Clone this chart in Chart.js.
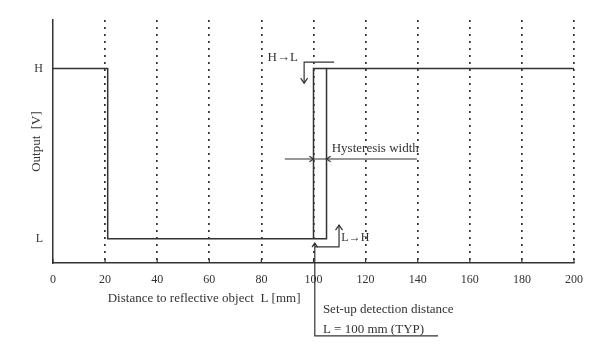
<!DOCTYPE html>
<html>
<head>
<meta charset="utf-8">
<script src="https://cdn.jsdelivr.net/npm/chart.js@4.4.1/dist/chart.umd.min.js"></script>
<style>
html,body{margin:0;padding:0;background:#fff;}
#wrap{width:600px;height:356px;position:relative;}
</style>
</head>
<body>
<div id="wrap"><canvas id="c"></canvas></div>
<script>
// ---- data ----
const LEVEL_L = 0.1;
const LEVEL_H = 0.8;
const distance = [0, 21, 21, 105, 105, 200];          // mm
const output   = [LEVEL_H, LEVEL_H, LEVEL_L, LEVEL_L, LEVEL_H, LEVEL_H];
const hystDistance = [100, 100, 105];
const hystOutput   = [LEVEL_L, LEVEL_H, LEVEL_H];
const xTickValues = [0, 20, 40, 60, 80, 100, 120, 140, 160, 180, 200];
const yTickValues = [LEVEL_L, LEVEL_H];
const yTickLabels = ['L', 'H'];

const INK = '#333333';
const SERIF = "'Liberation Serif', 'Times New Roman', serif";

function pts(xs, ys){ return xs.map((v,i)=>({x:v, y:ys[i]})); }

function arrowHead(ctx, x, y, dir, s){
  s = s || 5;
  ctx.beginPath();
  if(dir==='down'){ ctx.moveTo(x-s*0.7,y-s); ctx.lineTo(x,y); ctx.lineTo(x+s*0.7,y-s); }
  if(dir==='up'){ ctx.moveTo(x-s*0.7,y+s); ctx.lineTo(x,y); ctx.lineTo(x+s*0.7,y+s); }
  if(dir==='right'){ ctx.moveTo(x-s,y-s*0.7); ctx.lineTo(x,y); ctx.lineTo(x-s,y+s*0.7); }
  if(dir==='left'){ ctx.moveTo(x+s,y-s*0.7); ctx.lineTo(x,y); ctx.lineTo(x+s,y+s*0.7); }
  ctx.stroke();
}

const annot = {
  id: 'annot',
  afterDraw(chart){
    const {ctx, scales:{x, y}} = chart;
    const X = v => x.getPixelForValue(v), Y = v => y.getPixelForValue(v);
    ctx.save();
    ctx.strokeStyle = INK; ctx.fillStyle = INK; ctx.lineWidth = 1.2;
    ctx.setLineDash([]);
    const seg = (a,b,c,d) => { ctx.beginPath(); ctx.moveTo(a,b); ctx.lineTo(c,d); ctx.stroke(); };

    // inner tick marks on x axis
    x.ticks.forEach(t => { const px = X(t.value); seg(px, y.bottom, px, y.bottom - 4); });

    ctx.font = '13px ' + SERIF;
    ctx.textBaseline = 'middle';

    // H -> L
    ctx.textAlign = 'right';
    ctx.fillText('H\u2192L', X(94), Y(0.844));
    ctx.beginPath();
    ctx.moveTo(X(107.9), Y(0.827)); ctx.lineTo(X(96.4), Y(0.827)); ctx.lineTo(X(96.4), Y(0.74));
    ctx.stroke();
    arrowHead(ctx, X(96.4), Y(0.74), 'down');

    // Hysteresis width
    seg(X(89), Y(0.428), X(139.7), Y(0.428));
    arrowHead(ctx, X(100), Y(0.428), 'right', 4);
    arrowHead(ctx, X(105), Y(0.428), 'left', 4);
    ctx.textAlign = 'left';
    ctx.fillText('Hysteresis width', X(107), Y(0.47));

    // L -> H
    ctx.beginPath();
    ctx.moveTo(X(100.5), Y(0.066)); ctx.lineTo(X(109.8), Y(0.066)); ctx.lineTo(X(109.8), Y(0.156));
    ctx.stroke();
    arrowHead(ctx, X(109.8), Y(0.156), 'up');
    ctx.font = '12px ' + SERIF;
    ctx.fillText('L\u2192H', X(110.7), Y(0.103));

    // set-up detection distance pointer
    ctx.beginPath();
    ctx.moveTo(X(100.5), Y(0.082)); ctx.lineTo(X(100.5), Y(-0.30)); ctx.lineTo(X(147.8), Y(-0.30));
    ctx.stroke();
    arrowHead(ctx, X(100.5), Y(0.082), 'up', 4);
    ctx.font = '13px ' + SERIF;
    ctx.fillText('Set-up detection distance', X(103.6), Y(-0.193));
    ctx.fillText('L = 100 mm (TYP)', X(103.6), Y(-0.272));

    // x axis title
    ctx.fillText('Distance to reflective object  L [mm]', X(21), Y(-0.148));
    ctx.restore();
  }
};

new Chart(document.getElementById('c'), {
  type: 'line',
  data: {
    datasets: [
      { data: pts(distance, output), borderColor: INK, borderWidth: 1.5, pointRadius: 0, tension: 0, fill: false },
      { data: pts(hystDistance, hystOutput), borderColor: INK, borderWidth: 1.5, pointRadius: 0, tension: 0, fill: false }
    ]
  },
  options: {
    responsive: true,
    maintainAspectRatio: false,
    animation: false,
    events: [],
    layout: { padding: { left: 0, right: 26, top: 20, bottom: 0 } },
    plugins: { legend: { display: false }, tooltip: { enabled: false } },
    scales: {
      x: {
        type: 'linear', min: 0, max: 200,
        afterBuildTicks: s => { s.ticks = xTickValues.map(v => ({ value: v })); },
        afterFit: s => { s.height = 93; },
        border: { display: true, color: INK, width: 1.5, dash: [2, 5] },
        grid: {
          drawTicks: false,
          color: c => (c.tick && c.tick.value === 0) ? 'rgba(0,0,0,0)' : INK,
          lineWidth: 1.7
        },
        ticks: { color: INK, font: { family: SERIF, size: 12 }, padding: 10, maxRotation: 0 }
      },
      y: {
        type: 'linear', min: 0, max: 1,
        afterBuildTicks: s => { s.ticks = yTickValues.map(v => ({ value: v })); },
        afterFit: s => { s.width = 53; },
        border: { display: true, color: INK, width: 1.5 },
        grid: { display: false, drawTicks: false },
        ticks: {
          color: INK, font: { family: SERIF, size: 12 }, padding: 10,
          callback: (v) => { const i = yTickValues.indexOf(v); return i >= 0 ? yTickLabels[i] : ''; }
        },
        title: { display: true, text: 'Output  [V]', color: INK, font: { family: SERIF, size: 13 }, padding: { top: 29, bottom: 0 } }
      }
    }
  },
  plugins: [annot]
});
</script>
</body>
</html>
